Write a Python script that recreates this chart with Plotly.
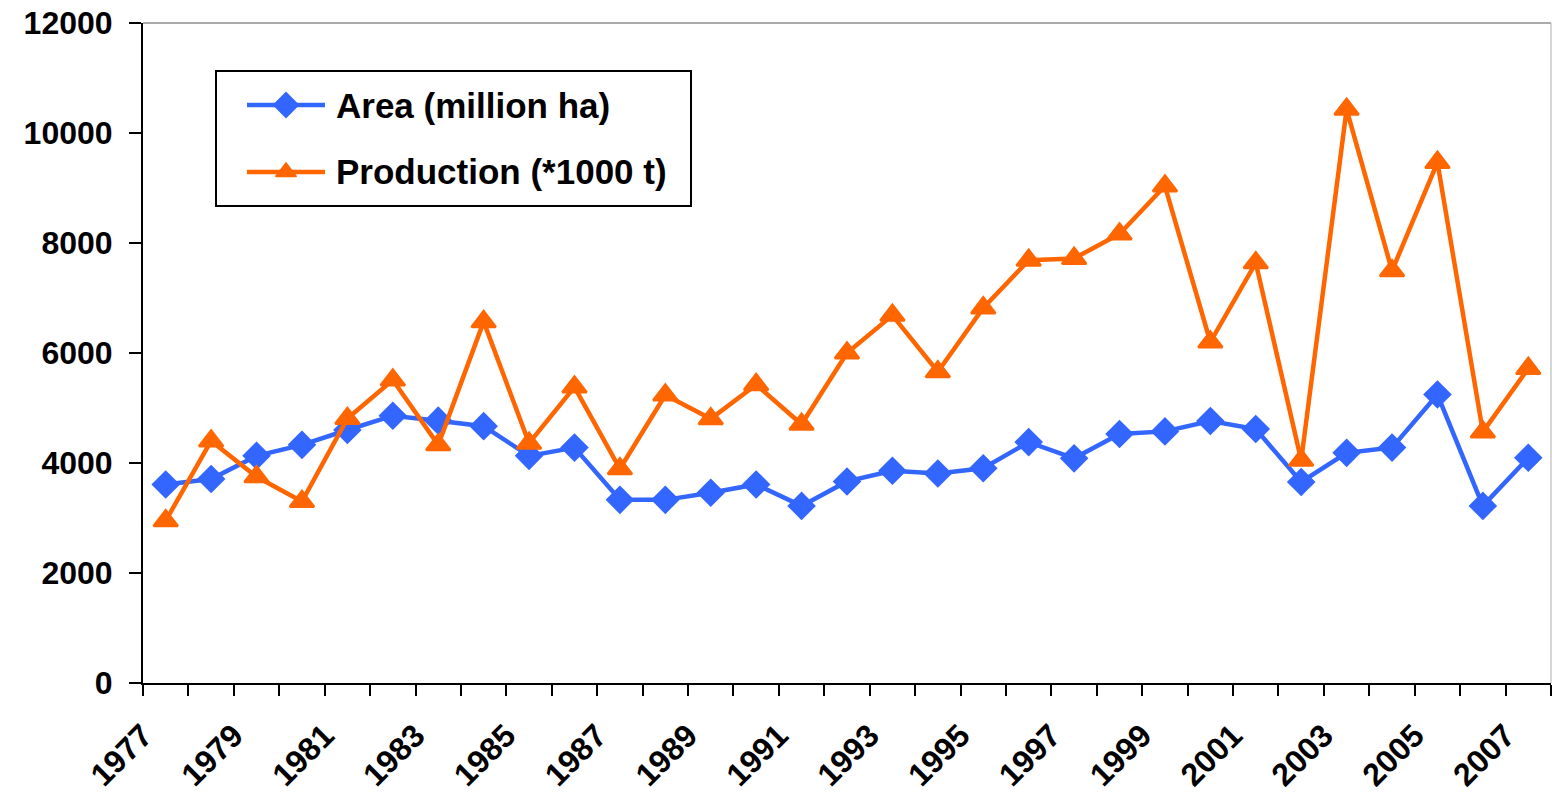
import plotly.graph_objects as go

# ---- data -------------------------------------------------------------
years = list(range(1977, 2008))
area = [3610, 3710, 4130, 4330, 4600, 4860, 4770, 4670, 4130, 4280,
        3330, 3330, 3460, 3610, 3220, 3665, 3860, 3810, 3905, 4380,
        4085, 4527, 4575, 4764, 4618, 3655, 4185, 4280, 5245, 3220, 4095]
production = [2950, 4400, 3750, 3300, 4810, 5510, 4330, 6570, 4360, 5380,
              3895, 5235, 4805, 5425, 4705, 6000, 6685, 5660, 6820, 7685,
              7720, 8165, 9035, 6200, 7640, 4050, 10430, 7495, 9465, 4565, 5720]
y_ticks = [0, 2000, 4000, 6000, 8000, 10000, 12000]
label_years = years[::2]
series_names = ["Area (million ha)", "Production (*1000 t)"]

# ---- styling ----------------------------------------------------------
BLUE = "#3366FF"
ORANGE = "#FF6600"
FONT = "Liberation Sans, Arial, sans-serif"
W, H = 1552, 794
M_L, M_R, M_T, M_B = 143, 1, 23, 111
PW, PH = W - M_L - M_R, H - M_T - M_B


def px_x(p):
    return (p - M_L) / PW


def px_y(p):
    return (H - M_B - p) / PH


fig = go.Figure()
fig.add_trace(go.Scatter(
    x=years, y=area, mode="lines+markers", name=series_names[0],
    line=dict(color=BLUE, width=4.5),
    marker=dict(symbol="diamond", size=22, color=BLUE),
    showlegend=False, cliponaxis=False))
fig.add_trace(go.Scatter(
    x=years, y=production, mode="lines+markers", name=series_names[1],
    line=dict(color=ORANGE, width=4.5),
    marker=dict(symbol="triangle-up", size=21, color=ORANGE,
                line=dict(color=ORANGE, width=2.5)),
    showlegend=False, cliponaxis=False))

# category boundaries carry the tick marks; odd years get a label
tick_vals = [y - 0.5 for y in years] + [years[-1] + 0.5]
tick_text = [str(y) if y in label_years else "" for y in years] + [""]

# ---- hand-built legend box ------------------------------------------
box_l, box_t, box_r, box_b = 216, 71, 691, 206
row_y = [105, 172]
sample_l, sample_r, text_x = 247, 325, 334
sample_c = (sample_l + sample_r) / 2

shapes = [
    dict(type="rect", xref="paper", yref="paper",
         x0=px_x(box_l), x1=px_x(box_r), y0=px_y(box_b), y1=px_y(box_t),
         line=dict(color="black", width=2), fillcolor="white", layer="below"),
    # light frame on top and right of plot area
    dict(type="line", xref="paper", yref="paper", x0=0, x1=1, y0=1, y1=1,
         line=dict(color="#8c8c8c", width=1.3)),
    dict(type="line", xref="paper", yref="paper", x0=1, x1=1, y0=0, y1=1,
         line=dict(color="#c0c0c0", width=1.3)),
]
annotations = []
colors = [BLUE, ORANGE]
symbols = ["diamond", "triangle-up"]
sizes = [19, 18]
for name, col, sym, sz, ry in zip(series_names, colors, symbols, sizes, row_y):
    shapes.append(dict(type="line", xref="paper", yref="paper",
                       x0=px_x(sample_l), x1=px_x(sample_r),
                       y0=px_y(ry), y1=px_y(ry),
                       line=dict(color=col, width=4.5), layer="below"))
    fig.add_trace(go.Scatter(
        x=[px_x(sample_c)], y=[px_y(ry)], xaxis="x2", yaxis="y2",
        mode="markers", marker=dict(symbol=sym, size=sz, color=col,
                                    line=dict(color=col, width=1.5)),
        showlegend=False, hoverinfo="skip", cliponaxis=False))
    annotations.append(dict(
        xref="paper", yref="paper", x=px_x(text_x), y=px_y(ry),
        xanchor="left", yanchor="middle", showarrow=False, text=name,
        font=dict(family=FONT, size=35, color="black", weight="bold")))

tick_font = dict(family=FONT, size=32, color="black", weight="bold")

fig.update_layout(
    width=W, height=H,
    margin=dict(l=M_L, r=M_R, t=M_T, b=M_B, pad=0, autoexpand=False),
    paper_bgcolor="white", plot_bgcolor="white",
    showlegend=False,
    shapes=shapes, annotations=annotations,
    xaxis=dict(range=[years[0] - 0.5, years[-1] + 0.5], automargin=False,
               tickmode="array", tickvals=tick_vals, ticktext=tick_text,
               tickangle=-45, ticks="outside", ticklen=11, tickwidth=2,
               tickcolor="black", showline=True, linecolor="black",
               linewidth=2, showgrid=False, zeroline=False,
               tickfont=tick_font, ticklabelstandoff=8),
    yaxis=dict(range=[y_ticks[0], y_ticks[-1]], tickmode="array",
               automargin=False,
               tickvals=y_ticks, tickformat="d", ticks="outside",
               ticklen=12, tickwidth=2, tickcolor="black", showline=True,
               linecolor="black", linewidth=2, showgrid=False,
               zeroline=False, tickfont=tick_font, ticklabelstandoff=10),
    xaxis2=dict(domain=[0, 1], range=[0, 1], overlaying="x", visible=False,
                fixedrange=True),
    yaxis2=dict(domain=[0, 1], range=[0, 1], overlaying="y", visible=False,
                fixedrange=True),
)

fig.write_html("out.html")
